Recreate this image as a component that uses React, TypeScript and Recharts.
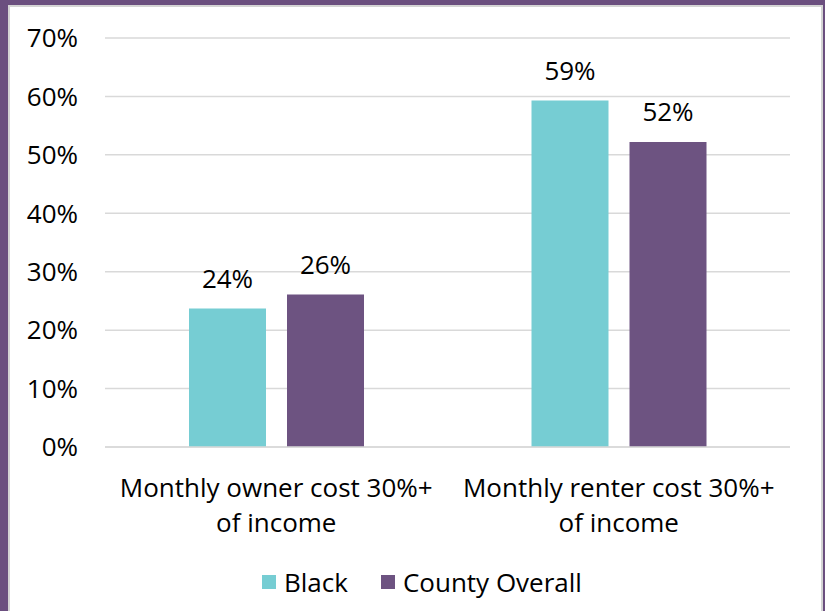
import React from "react";
import { BarChart, Bar, XAxis, YAxis, CartesianGrid, LabelList } from "recharts";

const categories = ["Monthly owner cost 30%+|of income", "Monthly renter cost 30%+|of income"];
const blackValues = [23.7, 59.3];
const countyValues = [26.1, 52.2];
const yTicks = [0, 10, 20, 30, 40, 50, 60, 70];
const seriesNames = ["Black", "County Overall"];
const colors = ["#76CDD3", "#6D5381"];

const data = categories.map((c, i) => ({ name: c, black: blackValues[i], county: countyValues[i] }));

const FONT = "'Open Sans', 'Noto Sans', sans-serif";
const FS = 26;

const XTick = (props: any) => {
  const { x, y, payload } = props;
  const lines = String(payload.value).split("|");
  return (
    <g>
      {lines.map((l: string, i: number) => (
        <text key={i} x={x} y={y + 42 + i * 35} textAnchor="middle" fontSize={FS} fill="#000" fontFamily={FONT}>
          {l}
        </text>
      ))}
    </g>
  );
};

const LegendBox = () => (
  <div style={{ position: "absolute", left: 262, top: 564, display: "flex", alignItems: "center", fontFamily: FONT, fontSize: FS, color: "#000", lineHeight: "36px" }}>
    {seriesNames.map((n, i) => (
      <div key={n} style={{ display: "flex", alignItems: "center", marginRight: 33 }}>
        <div style={{ width: 14, height: 14, background: colors[i], marginRight: 8 }} />
        <span>{n}</span>
      </div>
    ))}
  </div>
);

export default function App() {
  return (
    <div style={{ position: "absolute", left: 0, top: 0, width: 825, height: 611, background: "#6B4F7F", overflow: "hidden" }}>
      <div style={{ position: "absolute", left: 8, top: 5, width: 811, height: 610, background: "#fff", borderLeft: "2px solid #D4D4D4", borderTop: "2px solid #D4D4D4", borderRight: "2px solid #D4D4D4" }} />
      <div style={{ position: "absolute", left: 0, top: 0 }}>
        <BarChart
          width={825}
          height={611}
          data={data}
          margin={{ top: 38, right: 35, bottom: 0, left: 0 }}
          barGap={21}
          barSize={77}
        >
          <CartesianGrid vertical={false} stroke="#D9D9D9" strokeWidth={1.5} />
          <XAxis dataKey="name" tick={<XTick />} tickLine={false} axisLine={{ stroke: "#D9D9D9", strokeWidth: 1.5 }} interval={0} height={164} />
          <YAxis
            domain={[0, 70]}
            ticks={yTicks}
            width={105}
            tickLine={false}
            axisLine={false}
            tickSize={0}
            tickMargin={27}
            tickFormatter={(v: number) => `${v}%`}
            tick={{ fontSize: FS, fill: "#000", fontFamily: FONT }}
          />
          <Bar dataKey="black" name={seriesNames[0]} fill={colors[0]} isAnimationActive={false}>
            <LabelList dataKey="black" position="top" offset={21} formatter={(v: number) => `${Math.round(v)}%`} style={{ fontSize: FS, fill: "#000", fontFamily: FONT }} />
          </Bar>
          <Bar dataKey="county" name={seriesNames[1]} fill={colors[1]} isAnimationActive={false}>
            <LabelList dataKey="county" position="top" offset={21} formatter={(v: number) => `${Math.round(v)}%`} style={{ fontSize: FS, fill: "#000", fontFamily: FONT }} />
          </Bar>
        </BarChart>
      </div>
      <LegendBox />
    </div>
  );
}
